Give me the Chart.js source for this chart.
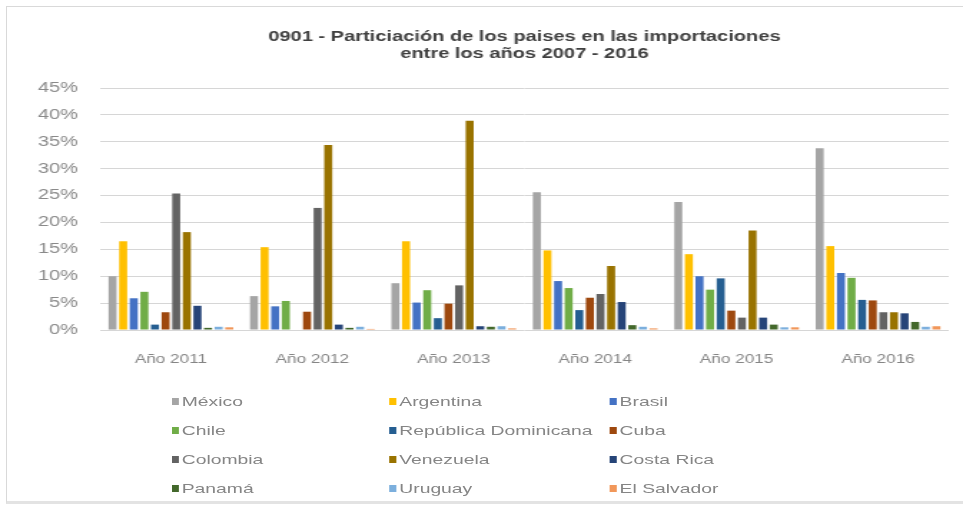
<!DOCTYPE html>
<html>
<head>
<meta charset="utf-8">
<script src="https://cdn.jsdelivr.net/npm/chart.js@4.4.1/dist/chart.umd.min.js"></script>
<style>
  html, body { margin:0; padding:0; background:#fff; overflow:hidden; width:963px; height:508px; }
  #frame { position:absolute; left:6px; top:6px; width:1000px; height:494px; border:1px solid #d9d9d9; border-bottom:3px solid #e3e3e3; }
  #stage { position:absolute; left:0; top:0; width:673px; height:508px; transform:scaleX(1.431); transform-origin:0 0; }
  #c { position:absolute; left:0; top:0; width:673px; height:508px; }
  #legend { position:absolute; left:120px; top:387px; display:grid; grid-template-columns:152px 154px auto; grid-auto-rows:29px;
            font:13.5px "Liberation Sans", Arial, sans-serif; color:#858585; }
  .item { display:flex; align-items:center; white-space:nowrap; }
  .sw { width:5px; height:7px; margin-right:2px; flex:none; }
</style>
</head>
<body>
<div id="frame"></div>
<div id="stage">
  <canvas id="c" width="673" height="508"></canvas>
  <div id="legend"></div>
</div>
<script>
// ---- data (percent share) ----
const categories = ['Año 2011', 'Año 2012', 'Año 2013', 'Año 2014', 'Año 2015', 'Año 2016'];
const countries  = ['México', 'Argentina', 'Brasil', 'Chile', 'República Dominicana', 'Cuba',
                    'Colombia', 'Venezuela', 'Costa Rica', 'Panamá', 'Uruguay', 'El Salvador'];
const mexico      = [10.0,  6.3,  8.7, 25.6, 23.8, 33.8];
const argentina   = [16.5, 15.4, 16.5, 14.8, 14.1, 15.6];
const brasil      = [ 5.9,  4.4,  5.1,  9.1, 10.0, 10.6];
const chile       = [ 7.1,  5.4,  7.4,  7.8,  7.5,  9.7];
const repDom      = [ 1.0,  0.0,  2.2,  3.7,  9.6,  5.6];
const cuba        = [ 3.3,  3.4,  4.9,  6.0,  3.6,  5.5];
const colombia    = [25.4, 22.7,  8.3,  6.7,  2.3,  3.3];
const venezuela   = [18.2, 34.4, 38.9, 11.9, 18.5,  3.3];
const costaRica   = [ 4.5,  1.0,  0.7,  5.2,  2.3,  3.1];
const panama      = [ 0.4,  0.4,  0.6,  0.9,  1.0,  1.5];
const uruguay     = [ 0.6,  0.6,  0.7,  0.6,  0.5,  0.6];
const elSalvador  = [ 0.5,  0.2,  0.3,  0.3,  0.5,  0.7];
const yTicks      = [0, 5, 10, 15, 20, 25, 30, 35, 40, 45];
const titleLines  = ['0901 - Particiación de los paises en las importaciones', 'entre los años 2007 - 2016'];

const seriesValues = [mexico, argentina, brasil, chile, repDom, cuba, colombia, venezuela, costaRica, panama, uruguay, elSalvador];
const colors = ['#a5a5a5', '#ffc000', '#4472c4', '#70ad47', '#255e91', '#9e480e',
                '#636363', '#997300', '#264478', '#43682b', '#7cafdd', '#f1975a'];

const FONT = '"Liberation Sans", Arial, sans-serif';

const chart = new Chart(document.getElementById('c'), {
  type: 'bar',
  data: {
    labels: categories,
    datasets: countries.map((name, i) => ({
      label: name,
      data: seriesValues[i],
      backgroundColor: colors[i],
      borderWidth: 0,
      categoryPercentage: 0.9,
      barPercentage: 0.756
    }))
  },
  options: {
    responsive: false,
    animation: false,
    devicePixelRatio: 1,
    layout: { padding: { top: 0, right: 10, bottom: 138, left: 0 } },
    plugins: {
      legend: { display: false },
      tooltip: { enabled: false },
      title: {
        display: true,
        fullSize: false,
        text: titleLines,
        color: '#404040',
        font: { family: FONT, size: 14, weight: 'bold', lineHeight: 17/14 },
        padding: { top: 28.5, bottom: 25.5 }
      }
    },
    scales: {
      x: {
        grid: { display: false },
        border: { display: false },
        ticks: { color: '#858585', font: { family: FONT, size: 12 }, padding: 14, maxRotation: 0 },
        afterFit(s) { s.height = 40; }
      },
      y: {
        min: yTicks[0],
        max: yTicks[yTicks.length - 1],
        afterBuildTicks(s) { s.ticks = yTicks.map(v => ({ value: v })); },
        ticks: { color: '#8a8a8a', font: { family: FONT, size: 14 }, padding: 15.5, callback: v => v + '%' },
        grid: { color: '#d6d6d6', drawTicks: false, lineWidth: 1 },
        border: { display: false },
        afterFit(s) { s.width = 70; }
      }
    }
  }
});

// HTML legend built from the chart's own legend items
const legendEl = document.getElementById('legend');
chart.options.plugins.legend.labels.generateLabels(chart).forEach(item => {
  const d = document.createElement('div');
  d.className = 'item';
  const sw = document.createElement('span');
  sw.className = 'sw';
  sw.style.background = item.fillStyle;
  const t = document.createElement('span');
  t.textContent = item.text;
  d.appendChild(sw); d.appendChild(t);
  legendEl.appendChild(d);
});
</script>
</body>
</html>
